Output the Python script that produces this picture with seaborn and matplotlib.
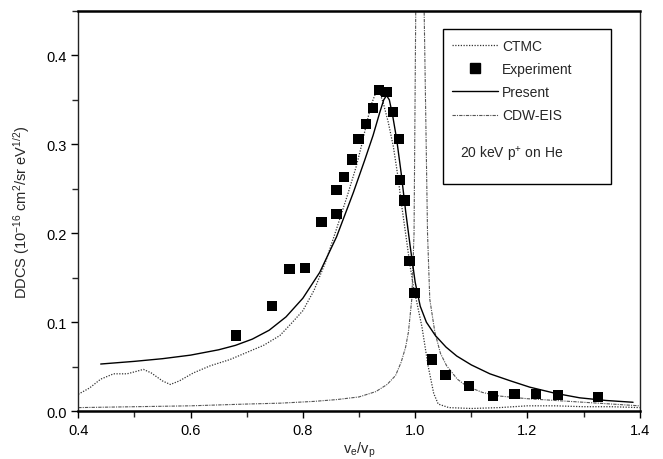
import numpy as np
import pandas as pd
import matplotlib
matplotlib.use("Agg")
import matplotlib.pyplot as plt
import seaborn as sns
from matplotlib.lines import Line2D
from matplotlib.patches import Rectangle
from matplotlib.ticker import MultipleLocator

# Experiment (squares)
exp_x = [0.681, 0.745, 0.776, 0.804, 0.833, 0.860, 0.860, 0.873, 0.887, 0.899,
         0.912, 0.925, 0.936, 0.949, 0.961, 0.971, 0.973, 0.981, 0.990, 0.999,
         1.030, 1.054, 1.096, 1.139, 1.177, 1.215, 1.254, 1.325]
exp_y = [0.085, 0.118, 0.160, 0.161, 0.213, 0.222, 0.249, 0.263, 0.283, 0.306,
         0.323, 0.341, 0.361, 0.359, 0.336, 0.306, 0.260, 0.237, 0.169, 0.133,
         0.058, 0.041, 0.028, 0.017, 0.019, 0.019, 0.018, 0.016]

# Present (solid)
present_x = [0.44, 0.50, 0.55, 0.60, 0.65, 0.68, 0.71, 0.74, 0.77, 0.80, 0.83,
             0.86, 0.89, 0.91, 0.925, 0.937, 0.944, 0.949, 0.954, 0.96, 0.967,
             0.975, 0.983, 0.991, 1.000, 1.009, 1.020, 1.036, 1.055, 1.074, 1.10,
             1.133, 1.17, 1.204, 1.25, 1.293, 1.34, 1.388]
present_y = [0.053, 0.056, 0.059, 0.063, 0.069, 0.074, 0.081, 0.091, 0.106, 0.127,
             0.156, 0.196, 0.246, 0.282, 0.310, 0.336, 0.350, 0.355, 0.350, 0.332,
             0.306, 0.268, 0.225, 0.186, 0.145, 0.118, 0.100, 0.085, 0.072, 0.062,
             0.052, 0.042, 0.034, 0.027, 0.020, 0.015, 0.012, 0.010]

# CTMC (dotted)
ctmc_x = [0.40, 0.42, 0.44, 0.463, 0.487, 0.505, 0.516, 0.53, 0.55, 0.564, 0.58,
          0.605, 0.635, 0.67, 0.70, 0.73, 0.759, 0.78, 0.80, 0.82, 0.84, 0.86,
          0.88, 0.895, 0.905, 0.914, 0.922, 0.931, 0.937, 0.943, 0.952, 0.961,
          0.969, 0.976, 0.984, 0.991, 0.997, 1.003, 1.012, 1.023, 1.033, 1.041,
          1.06, 1.10, 1.15, 1.20, 1.25, 1.30, 1.35, 1.40]
ctmc_y = [0.019, 0.026, 0.036, 0.042, 0.042, 0.045, 0.047, 0.043, 0.034, 0.030,
          0.034, 0.043, 0.051, 0.058, 0.066, 0.074, 0.085, 0.099, 0.113, 0.136,
          0.167, 0.205, 0.244, 0.275, 0.300, 0.325, 0.345, 0.360, 0.358, 0.347,
          0.325, 0.298, 0.265, 0.231, 0.195, 0.163, 0.140, 0.122, 0.095, 0.051,
          0.020, 0.008, 0.004, 0.003, 0.004, 0.006, 0.006, 0.005, 0.005, 0.004]

# CDW-EIS (dash-dot), cusp at v_e = v_p
cdw_x = [0.40, 0.50, 0.60, 0.70, 0.76, 0.82, 0.86, 0.90, 0.93, 0.95, 0.965,
         0.975, 0.983, 0.988, 0.994, 0.998, 1.001, 1.005, 1.012, 1.016, 1.022,
         1.026, 1.035, 1.045, 1.056, 1.075, 1.092, 1.12, 1.15, 1.20, 1.25, 1.30,
         1.35, 1.40]
cdw_y = [0.004, 0.005, 0.006, 0.008, 0.009, 0.011, 0.013, 0.016, 0.022, 0.030,
         0.040, 0.055, 0.072, 0.089, 0.126, 0.200, 0.450, 0.800, 0.800, 0.450,
         0.200, 0.126, 0.089, 0.065, 0.051, 0.036, 0.028, 0.021, 0.017, 0.014,
         0.012, 0.010, 0.008, 0.006]

sns.set_theme(style="ticks")
plt.rcParams['font.family'] = ['Liberation Sans', 'DejaVu Sans']
plt.rcParams['mathtext.fontset'] = 'custom'
plt.rcParams['mathtext.rm'] = 'Liberation Sans'
plt.rcParams['mathtext.it'] = 'Liberation Sans'

fig = plt.figure(figsize=(6.63, 4.6), dpi=100)
ax = fig.add_axes([0.118, 0.104, 0.847, 0.870])

dot_style = (0, (1, 1.2))
dashdot_style = (0, (3, 1, 1, 1))

sns.lineplot(x=ctmc_x, y=ctmc_y, ax=ax, sort=False, estimator=None,
             color="#333333", lw=0.9, linestyle=dot_style)
sns.lineplot(x=cdw_x, y=cdw_y, ax=ax, sort=False, estimator=None,
             color="#555555", lw=0.8, linestyle=dashdot_style)
sns.lineplot(x=present_x, y=present_y, ax=ax, sort=False, estimator=None,
             color="black", lw=1.0)
sns.scatterplot(x=exp_x, y=exp_y, ax=ax, marker="s", s=55, color="black",
                edgecolor="none", zorder=5)

ax.set_xlim(0.4, 1.4)
ax.set_ylim(0.0, 0.45)
ax.xaxis.set_major_locator(MultipleLocator(0.2))
ax.xaxis.set_minor_locator(MultipleLocator(0.1))
ax.yaxis.set_major_locator(MultipleLocator(0.1))
ax.yaxis.set_minor_locator(MultipleLocator(0.05))
ax.tick_params(which="major", direction="out", length=5, width=1, labelsize=10.5,
               colors="black")
ax.tick_params(which="minor", direction="out", length=4, width=1)

for side in ["top", "bottom"]:
    ax.spines[side].set_linewidth(1.8)
    ax.spines[side].set_color("black")
for side in ["left", "right"]:
    ax.spines[side].set_linewidth(1.0)
    ax.spines[side].set_color("#222222")
    ax.spines[side].set_visible(True)
ax.spines["top"].set_visible(True)

ax.set_xlabel(r"v$_\mathrm{e}$/v$_\mathrm{p}$", fontsize=10.5, labelpad=2)
ax.set_ylabel(r"DDCS (10$^{\mathrm{-16}}$ cm$^{\mathrm{2}}$/sr eV$^{\mathrm{1/2}}$)",
              fontsize=10.5, labelpad=10)

# legend box
ax.add_patch(Rectangle((0.649, 0.5675), 0.300, 0.3875, transform=ax.transAxes,
                       facecolor="white", edgecolor="black", lw=1.0, zorder=6))
handles = [
    Line2D([], [], color="#333333", lw=0.9, linestyle=dot_style),
    Line2D([], [], color="black", marker="s", markersize=7, linestyle="none"),
    Line2D([], [], color="black", lw=1.0),
    Line2D([], [], color="#555555", lw=0.8, linestyle=dashdot_style),
]
labels = ["CTMC", "Experiment", "Present", "CDW-EIS"]
leg = ax.legend(handles, labels, loc="upper left", bbox_to_anchor=(0.665, 0.93),
                frameon=False, fontsize=10, handlelength=3.3, handletextpad=0.35,
                labelspacing=0.66, borderaxespad=0, borderpad=0)
leg.set_zorder(7)
ax.text(0.680, 0.645, r"20 keV p$^{+}$ on He", transform=ax.transAxes,
        fontsize=10, va="center", ha="left", zorder=7)

fig.savefig("out.png", dpi=100)
